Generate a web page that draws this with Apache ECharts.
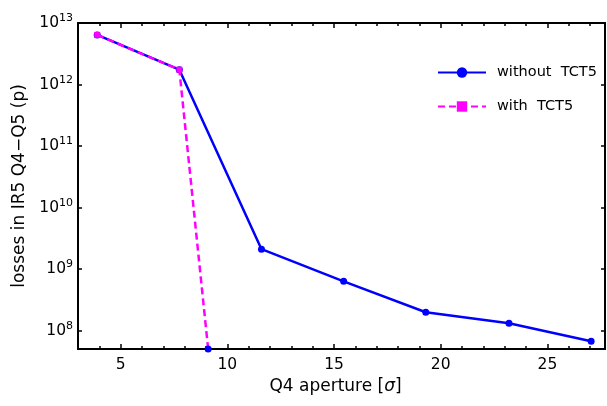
<!DOCTYPE html>
<html>
<head>
<meta charset="utf-8">
<script src="https://cdn.jsdelivr.net/npm/echarts@6/dist/echarts.min.js"></script>
<style>
  html, body { margin: 0; padding: 0; background: #fff; }
  #chart { width: 607px; height: 406px; }
</style>
</head>
<body>
<div id="chart"></div>
<script>
// Q4 aperture scan: losses in IR5 Q4-Q5 with and without the TCT5 collimator
const apertureWithout = [3.9, 7.75, 11.6, 15.45, 19.3, 23.2, 27.05];
const lossesWithout   = [6.4e12, 1.74e12, 2.1e9, 6.3e8, 1.98e8, 1.31e8, 6.7e7];
const apertureWith    = [3.9, 7.75, 9.1];
const lossesWith      = [6.4e12, 1.74e12, 5e7];

const xMajorTicks = [5, 10, 15, 20, 25];
const xMinorTicks = [3, 4, 5, 6, 7, 8, 9, 10, 11, 12, 13, 14, 15, 16, 17, 18, 19, 20, 21, 22, 23, 24, 25, 26, 27];
const yDecades    = [1e8, 1e9, 1e10, 1e11, 1e12, 1e13];

const FONT = 'DejaVu Sans';
const X_MIN = 3, X_MAX = 27.7;
const Y_MIN = 5e7, Y_MAX = 1e13;

const pairs = (xs, ys) => xs.map((x, i) => [x, ys[i]]);

function xAxisDef(position, ticks, len, withLabels) {
  return {
    type: 'value', position, min: X_MIN, max: X_MAX,
    axisLine: { show: true, onZero: false, lineStyle: { color: '#000', width: 2 } },
    axisTick: { show: true, inside: true, length: len, customValues: ticks,
                lineStyle: { color: '#000', width: 1.5 } },
    axisLabel: withLabels
      ? { show: true, customValues: xMajorTicks, margin: 8, color: '#000',
          fontFamily: FONT, fontSize: 15.5 }
      : { show: false },
    splitLine: { show: false }
  };
}

function yAxisDef(position, withLabels) {
  return {
    type: 'log', logBase: 10, position, min: Y_MIN, max: Y_MAX,
    axisLine: { show: true, onZero: false, lineStyle: { color: '#000', width: 2 } },
    axisTick: { show: true, inside: true, length: 4, customValues: yDecades,
                lineStyle: { color: '#000', width: 1.5 } },
    axisLabel: withLabels ? {
      show: true, customValues: yDecades, margin: 5, color: '#000',
      formatter: v => '{b|10}{e|' + Math.round(Math.log10(v)) + '}',
      rich: {
        b: { fontFamily: FONT, fontSize: 15.5, color: '#000', lineHeight: 18 },
        e: { fontFamily: FONT, fontSize: 11, color: '#000', lineHeight: 18, padding: [0, 0, 9, 0] }
      }
    } : { show: false },
    splitLine: { show: false },
    minorTick: { show: false }
  };
}

const xBottom = xAxisDef('bottom', xMinorTicks, 3, true);
xBottom.name = 'Q4 aperture [{i|σ}]';
xBottom.nameLocation = 'middle';
xBottom.nameGap = 25;
xBottom.nameTextStyle = {
  fontFamily: FONT, fontSize: 17, color: '#000', padding: [0, 12, 0, 0],
  rich: { i: { fontFamily: FONT, fontSize: 17, fontStyle: 'italic', color: '#000' } }
};

const yLeft = yAxisDef('left', true);
yLeft.name = 'losses in IR5 Q4\u2212Q5 (p)';
yLeft.nameLocation = 'middle';
yLeft.nameGap = 50;
yLeft.nameTextStyle = { fontFamily: FONT, fontSize: 17, color: '#000' };

const chart = echarts.init(document.getElementById('chart'), null, { renderer: 'canvas' });

chart.setOption({
  animation: false,
  backgroundColor: '#fff',
  grid: { left: 78, right: 2, top: 23, bottom: 57, containLabel: false },
  legend: {
    orient: 'vertical', left: 432, top: 60, padding: 5,
    itemWidth: 48, itemHeight: 13, itemGap: 19,
    textStyle: { fontFamily: FONT, fontSize: 14.5, color: '#000', padding: [0, 0, 0, 6] },
    data: ['without  TCT5', 'with  TCT5']
  },
  xAxis: [
    xBottom,
    xAxisDef('bottom', xMajorTicks, 5, false),
    xAxisDef('top', xMinorTicks, 3, false),
    xAxisDef('top', xMajorTicks, 5, false)
  ],
  yAxis: [yLeft, yAxisDef('right', false)],
  series: [
    {
      name: 'without  TCT5', type: 'line', xAxisIndex: 0, yAxisIndex: 0,
      data: pairs(apertureWithout, lossesWithout),
      symbol: 'circle', symbolSize: 7, showAllSymbol: true,
      color: '#0000ff',
      itemStyle: { color: '#0000ff' },
      lineStyle: { color: '#0000ff', width: 2.5 },
      z: 2
    },
    {
      name: 'with  TCT5', type: 'line', xAxisIndex: 0, yAxisIndex: 0,
      data: pairs(apertureWith, lossesWith).map((p, i, arr) =>
        i === arr.length - 1
          ? { value: p, symbol: 'circle', symbolSize: 7, itemStyle: { color: '#0000ff' } }
          : { value: p }),
      symbol: 'rect', symbolSize: 6, showAllSymbol: true,
      color: '#ff00ff',
      itemStyle: { color: '#ff00ff' },
      lineStyle: { color: '#ff00ff', width: 2.5, type: [7, 4] },
      z: 3
    }
  ]
});
</script>
</body>
</html>
